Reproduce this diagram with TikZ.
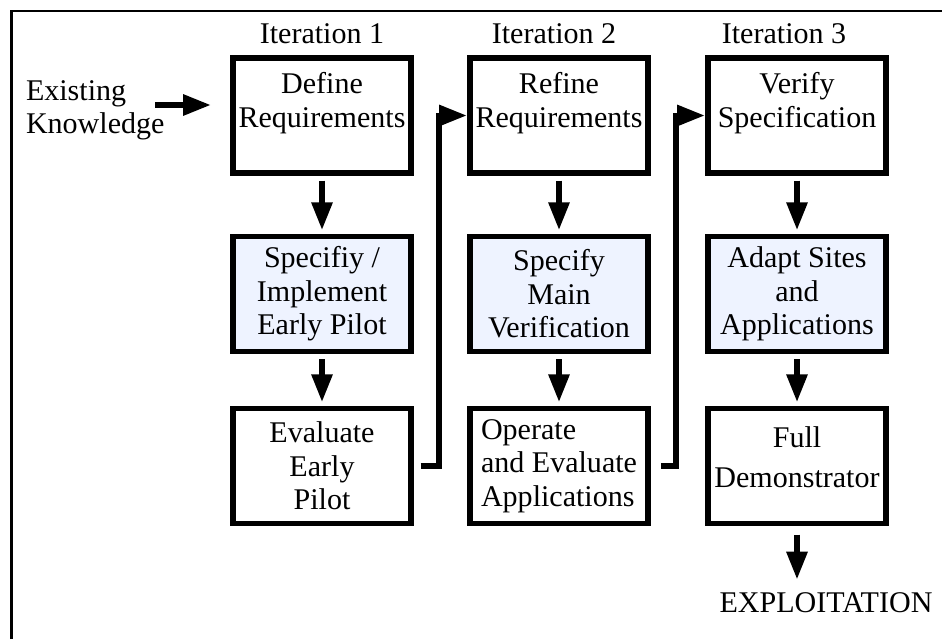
\documentclass[tikz,border=0pt]{standalone}
\usepackage{fontspec}
\setmainfont{Liberation Serif}
\usepackage{xcolor}
\usetikzlibrary{arrows.meta}

\definecolor{pilotblue}{RGB}{238,243,255}

\begin{document}
\begin{tikzpicture}[x=0.02cm, y=-0.02cm, ->, >={Triangle[length=0.56cm, width=0.4cm]}, line width=0.12cm,
	every node/.style={inner sep=0pt, font=\fontsize{17.1}{19}\selectfont},
	stage/.style={draw, line width=0.11cm, minimum width=3.57cm, minimum height=2.3cm, align=center},
	pilot/.style={stage, fill=pilotblue},
	upper/.style={text depth=0.63cm},
	down/.style={shorten <=0.1cm, shorten >=0.07cm}]
	\useasboundingbox (0,0) rectangle (942,639);
	\draw[-, line width=0.05cm] (11.5,639) -- (11.5,11) -- (942,11);

	\node[anchor=base] (it1) at (322,43) {Iteration 1};
	\node[anchor=base] (it2) at (554,43) {Iteration 2};
	\node[anchor=base] (it3) at (784,43) {Iteration 3};
	\node[anchor=west, align=left] (ek) at (23,110) {Existing\\Knowledge};

	\node[stage, upper] (def) at (322,115.5) {Define\\Requirements};
	\node[stage, upper] (ref) at (559,115.5) {Refine\\Requirements};
	\node[stage, upper] (ver) at (797,115.5) {Verify\\Specification};
	\node[pilot] (imp) at (322,294) {Specifiy /\\Implement\\Early Pilot};
	\node[pilot] (spc) at (559,294) {Specify\\Main\\Verification};
	\node[pilot] (ada) at (797,294) {Adapt Sites\\and\\Applications};
	\node[stage] (eva) at (322,466) {Evaluate\\Early\\Pilot};
	\node[stage, align=left] (opr) at (559,466) {Operate\\and Evaluate\\Applications};
	\node[stage, font=\fontsize{17.1}{22.7}\selectfont, text depth=0.36cm] (ful) at (797,466) {Full\\Demonstrator};
	\node[anchor=base] (exp) at (826,612) {EXPLOITATION};

	\draw[shorten <=-0.25cm, shorten >=0.38cm] ([yshift=0.1cm]ek.east) -- ([yshift=0.1cm]ek.east -| def.west);
	\draw[down] (def.south) -- (imp.north);
	\draw[down] (imp.south) -- (eva.north);
	\draw[down] (ref.south) -- (spc.north);
	\draw[down] (spc.south) -- (opr.north);
	\draw[down] (ver.south) -- (ada.north);
	\draw[down] (ada.south) -- (ful.north);
	\draw[shorten <=0.17cm, shorten >=0.19cm] (ful.south) -- (ful.south |- exp.north);
	\draw[shorten <=0.135cm] (eva.east) -- ++(25,0) |- (ref.west);
	\draw[shorten <=0.2cm] (opr.east) -- ++(25,0) |- (ver.west);
\end{tikzpicture}
\end{document}
